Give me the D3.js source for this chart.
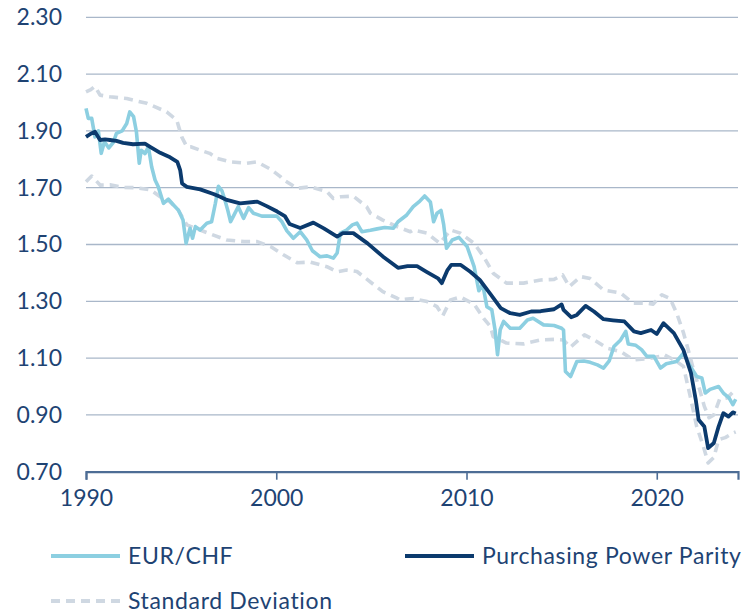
<!DOCTYPE html>
<html>
<head>
<meta charset="utf-8">
<script src="https://cdn.jsdelivr.net/npm/d3@7"></script>
<style>
  body { margin: 0; background: #fff; }
  svg { display: block; font-family: "Lato", "Noto Sans", sans-serif; }
</style>
</head>
<body>
<svg width="746" height="613"></svg>
<script>
// EUR/CHF spot
var eurYears = [1990.0,1990.12,1990.3,1990.47,1990.65,1990.8,1990.97,1991.2,1991.44,1991.6,1991.9,1992.14,1992.3,1992.5,1992.65,1992.8,1992.9,1993.1,1993.28,1993.45,1993.63,1993.8,1994.07,1994.33,1994.6,1994.86,1995.1,1995.26,1995.47,1995.6,1995.75,1996.0,1996.35,1996.6,1996.8,1996.96,1997.14,1997.3,1997.45,1997.6,1997.75,1998.0,1998.28,1998.55,1998.8,1999.24,1999.7,2000.03,2000.3,2000.56,2000.9,2001.26,2001.6,2001.9,2002.3,2002.67,2003.0,2003.2,2003.37,2003.7,2004.0,2004.24,2004.5,2004.95,2005.3,2005.7,2006.16,2006.4,2006.86,2007.2,2007.5,2007.8,2008.1,2008.27,2008.45,2008.66,2008.8,2008.95,2009.25,2009.6,2010.03,2010.4,2010.65,2010.85,2011.07,2011.33,2011.5,2011.63,2011.77,2011.95,2012.3,2012.8,2013.2,2013.5,2014.05,2014.6,2015.0,2015.1,2015.2,2015.47,2015.8,2016.17,2016.5,2016.88,2017.2,2017.5,2017.75,2018.1,2018.37,2018.5,2018.9,2019.2,2019.48,2019.85,2020.2,2020.5,2021.04,2021.4,2021.76,2022.1,2022.37,2022.55,2022.8,2023.25,2023.5,2023.8,2024.0,2024.15];
var eurValues = [1.979,1.944,1.944,1.879,1.90,1.821,1.862,1.84,1.86,1.891,1.90,1.926,1.967,1.95,1.897,1.786,1.832,1.82,1.844,1.774,1.727,1.703,1.645,1.66,1.639,1.621,1.586,1.504,1.557,1.522,1.563,1.551,1.575,1.58,1.645,1.705,1.69,1.657,1.621,1.58,1.60,1.633,1.592,1.63,1.61,1.60,1.60,1.60,1.58,1.548,1.522,1.545,1.516,1.478,1.457,1.46,1.452,1.47,1.540,1.551,1.569,1.575,1.545,1.55,1.555,1.56,1.557,1.58,1.604,1.633,1.65,1.671,1.65,1.58,1.61,1.62,1.57,1.487,1.516,1.525,1.493,1.422,1.337,1.36,1.281,1.27,1.199,1.112,1.20,1.229,1.205,1.205,1.234,1.24,1.217,1.215,1.205,1.199,1.053,1.035,1.088,1.09,1.085,1.076,1.065,1.09,1.141,1.164,1.194,1.15,1.145,1.13,1.106,1.106,1.065,1.08,1.088,1.117,1.071,1.035,1.03,0.977,0.99,1.00,0.977,0.96,0.936,0.955];

// purchasing power parity
var pppYears = [1990.0,1990.25,1990.47,1990.74,1991.0,1991.26,1991.6,1991.95,1992.47,1993.1,1993.37,1993.9,1994.42,1994.8,1994.95,1995.05,1995.3,1996.0,1996.7,1997.05,1997.4,1998.1,1999.0,1999.5,2000.05,2000.45,2000.7,2001.26,2001.95,2002.5,2003.2,2003.5,2004.05,2004.8,2005.6,2006.4,2006.9,2007.4,2007.9,2008.5,2008.7,2009.0,2009.2,2009.7,2010.2,2010.7,2011.26,2011.8,2012.3,2012.8,2013.4,2013.9,2014.6,2015.0,2015.1,2015.5,2015.8,2016.26,2016.7,2017.2,2017.7,2018.3,2018.8,2019.16,2019.7,2020.0,2020.35,2020.9,2021.4,2021.8,2022.05,2022.2,2022.5,2022.7,2023.0,2023.25,2023.5,2023.77,2024.0,2024.15];
var pppValues = [1.879,1.89,1.897,1.868,1.87,1.868,1.865,1.858,1.853,1.855,1.844,1.823,1.807,1.791,1.762,1.715,1.703,1.694,1.678,1.668,1.657,1.645,1.651,1.635,1.616,1.60,1.572,1.558,1.577,1.557,1.528,1.540,1.540,1.504,1.458,1.418,1.424,1.424,1.404,1.381,1.364,1.41,1.428,1.428,1.404,1.375,1.325,1.276,1.258,1.252,1.264,1.265,1.272,1.289,1.27,1.244,1.252,1.284,1.264,1.237,1.233,1.229,1.194,1.188,1.199,1.185,1.223,1.188,1.129,1.047,0.953,0.883,0.859,0.783,0.801,0.859,0.906,0.894,0.909,0.905];

// standard deviation band, upper and lower edge
var sdUpYears = [1990.0,1990.25,1990.47,1990.74,1991.26,1992.14,1993.2,1994.24,1994.77,1995.03,1995.3,1995.5,1996.0,1996.5,1996.9,1997.58,1998.45,1998.98,1999.7,2000.2,2000.4,2001.1,2001.8,2002.67,2003.0,2003.4,2004.05,2004.75,2004.95,2005.6,2006.35,2007.05,2007.2,2007.93,2008.3,2008.6,2009.16,2009.68,2010.4,2010.9,2011.4,2012.1,2013.0,2013.9,2014.6,2015.05,2015.4,2016.0,2016.5,2017.2,2018.1,2018.77,2019.48,2019.8,2020.27,2020.7,2021.05,2021.4,2021.67,2021.93,2022.25,2022.5,2022.75,2023.0,2023.3,2023.7,2024.0,2024.15];
var sdUpValues = [2.037,2.045,2.057,2.026,2.02,2.014,1.997,1.967,1.938,1.879,1.844,1.844,1.832,1.821,1.803,1.791,1.786,1.791,1.765,1.74,1.727,1.698,1.703,1.686,1.662,1.668,1.67,1.633,1.61,1.586,1.563,1.545,1.551,1.54,1.52,1.504,1.551,1.54,1.504,1.457,1.399,1.364,1.364,1.375,1.377,1.393,1.352,1.387,1.38,1.340,1.329,1.293,1.293,1.29,1.323,1.31,1.258,1.19,1.125,1.059,0.99,0.93,0.89,0.90,0.955,0.96,0.98,0.965];

var sdLowYears = [1990.0,1990.3,1990.75,1991.26,1991.96,1992.66,1993.4,1993.9,1994.4,1994.85,1995.3,1996.0,1996.7,1997.4,1998.3,1999.0,1999.7,2000.4,2001.1,2001.8,2002.66,2003.2,2003.7,2004.24,2005.1,2005.6,2006.35,2006.5,2007.2,2007.93,2008.45,2008.75,2009.16,2009.68,2010.4,2010.9,2011.26,2011.4,2012.1,2013.0,2013.9,2014.6,2015.1,2015.45,2016.2,2016.7,2017.4,2018.1,2018.77,2019.5,2020.2,2020.4,2021.05,2021.4,2021.76,2022.1,2022.45,2022.7,2023.0,2023.25,2023.6,2024.0,2024.15];
var sdLowValues = [1.721,1.741,1.709,1.71,1.701,1.70,1.692,1.668,1.651,1.621,1.569,1.551,1.533,1.516,1.510,1.51,1.493,1.463,1.436,1.438,1.422,1.404,1.41,1.405,1.36,1.334,1.311,1.305,1.31,1.299,1.281,1.249,1.305,1.315,1.29,1.24,1.211,1.176,1.153,1.15,1.164,1.166,1.164,1.138,1.182,1.164,1.135,1.123,1.094,1.098,1.106,1.112,1.088,1.071,0.965,0.859,0.789,0.731,0.75,0.813,0.82,0.836,0.84];

var yTicks = [0.70,0.90,1.10,1.30,1.50,1.70,1.90,2.10,2.30];
var xTicks = [1990,2000,2010,2020];

var colors = {eur: "#8ccfe1", ppp: "#0b3a6d", sd: "#cfd8e2", grid: "#a9b7c9", axis: "#4d6d95", text: "#1e4373"};

var svg = d3.select("svg");

// scales
var x = d3.scaleLinear().domain([1990, 2024.27]).range([86, 738]);
var y = d3.scaleLinear().domain([0.70, 2.30]).range([471.7, 17.3]);

// horizontal grid (skip the bottom, the axis goes there)
svg.append("g")
  .selectAll("line")
  .data(yTicks.slice(1))
  .enter().append("line")
  .attr("x1", x(1990)).attr("x2", x.range()[1])
  .attr("y1", function(d){ return y(d); })
  .attr("y2", function(d){ return y(d); })
  .attr("stroke", colors.grid)
  .attr("stroke-width", 1.3);

// y labels
var yAxis = svg.append("g")
  .attr("transform", "translate(" + (x(1990) - 24) + ",0)")
  .call(d3.axisLeft(y).tickValues(yTicks).tickFormat(d3.format(".2f")).tickSize(0).tickPadding(0));
yAxis.select(".domain").remove();
yAxis.selectAll("text")
  .attr("fill", colors.text)
  .style("font-size", "23px")
  .style("font-family", "Lato, 'Noto Sans', sans-serif");

// x axis
var xAxis = svg.append("g")
  .attr("transform", "translate(0," + y(0.70) + ")")
  .call(d3.axisBottom(x).tickValues(xTicks).tickFormat(d3.format("d")).tickSize(8).tickPadding(10));
xAxis.select(".domain").attr("stroke", colors.axis).attr("stroke-width", 2.2);
xAxis.selectAll(".tick line").attr("stroke", colors.axis).attr("stroke-width", 1.6);
xAxis.selectAll("text")
  .attr("fill", colors.text)
  .style("font-size", "23px")
  .style("font-family", "Lato, 'Noto Sans', sans-serif");

function series(xs, ys){
  return xs.map(function(d, i){ return [d, ys[i]]; });
}

var line = d3.line()
  .x(function(d){ return x(d[0]); })
  .y(function(d){ return y(d[1]); });

// standard deviation dashes
[series(sdUpYears, sdUpValues), series(sdLowYears, sdLowValues)].forEach(function(s){
  svg.append("path")
    .datum(s)
    .attr("d", line)
    .attr("fill", "none")
    .attr("stroke", colors.sd)
    .attr("stroke-width", 3.6)
    .attr("stroke-dasharray", "9,6")
    .attr("stroke-linejoin", "round");
});

svg.append("path")
  .datum(series(eurYears, eurValues))
  .attr("d", line)
  .attr("fill", "none")
  .attr("stroke", colors.eur)
  .attr("stroke-width", 3.6)
  .attr("stroke-linejoin", "round");

svg.append("path")
  .datum(series(pppYears, pppValues))
  .attr("d", line)
  .attr("fill", "none")
  .attr("stroke", colors.ppp)
  .attr("stroke-width", 3.8)
  .attr("stroke-linejoin", "round");

//////////// LEGEND ////////////
var legendItems = [
  {label: "EUR/CHF", color: colors.eur, dash: null, lx: 51, ly: 556},
  {label: "Purchasing Power Parity", color: colors.ppp, dash: null, lx: 405, ly: 556},
  {label: "Standard Deviation", color: colors.sd, dash: "9,6", lx: 51, ly: 601}
];

var legend = svg.append("g").selectAll("g")
  .data(legendItems)
  .enter().append("g")
  .attr("transform", function(d){ return "translate(" + d.lx + "," + d.ly + ")"; });

legend.append("line")
  .attr("x1", 0).attr("x2", 69)
  .attr("stroke", function(d){ return d.color; })
  .attr("stroke-width", 4)
  .attr("stroke-dasharray", function(d){ return d.dash; });

legend.append("text")
  .attr("x", 77)
  .attr("y", 8)
  .attr("fill", colors.text)
  .style("font-size", "23px")
  .style("letter-spacing", "0.65px")
  .text(function(d){ return d.label; });
</script>
</body>
</html>
